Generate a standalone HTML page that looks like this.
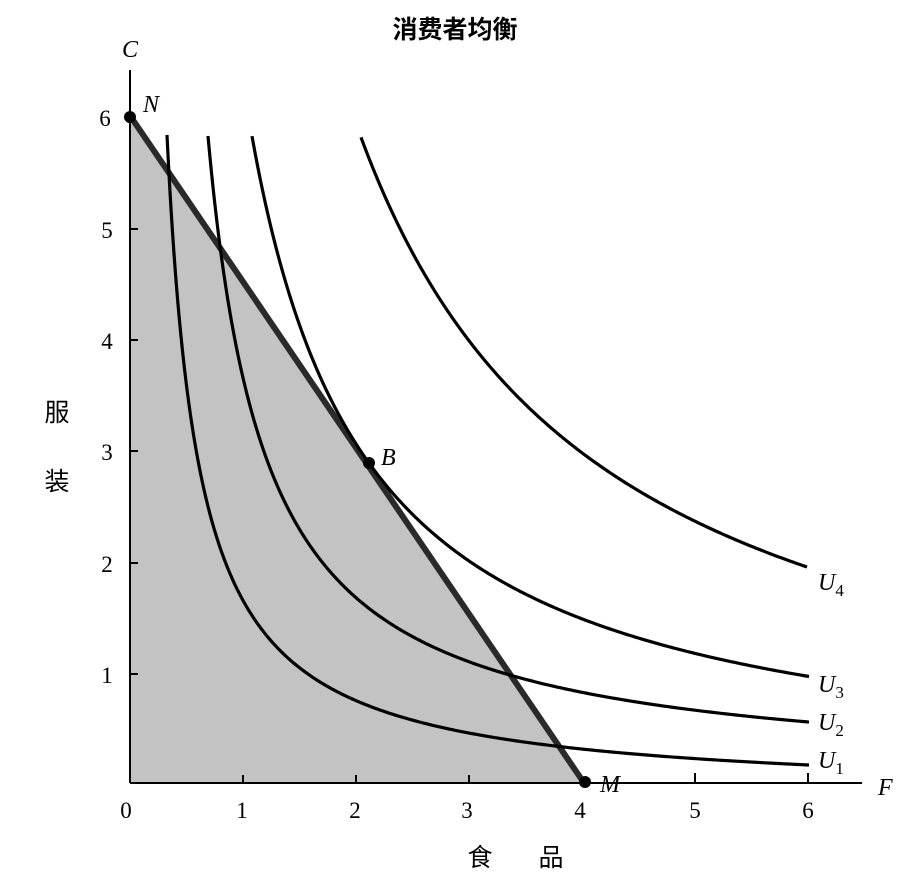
<!DOCTYPE html>
<html><head><meta charset="utf-8"><style>
body{margin:0;background:#fff;}
svg{display:block;}
</style></head><body>
<svg id="s" width="922" height="891" viewBox="0 0 922 891" xmlns="http://www.w3.org/2000/svg">
<rect width="922" height="891" fill="#fff"/>
<text x="455" y="38" font-family="'Noto Sans CJK SC',sans-serif" font-weight="bold" font-size="25" text-anchor="middle">消费者均衡</text>
<polygon points="130,117 582,783 130,783" fill="#c3c3c3"/>
<g stroke="#000" stroke-width="2">
<line x1="130" y1="70" x2="130" y2="783"/>
<line x1="130" y1="783" x2="862" y2="783"/>
<line x1="130" y1="229" x2="138" y2="229"/>
<line x1="130" y1="340" x2="138" y2="340"/>
<line x1="130" y1="451" x2="138" y2="451"/>
<line x1="130" y1="563" x2="138" y2="563"/>
<line x1="130" y1="674" x2="138" y2="674"/>
<line x1="243" y1="783" x2="243" y2="775"/>
<line x1="356" y1="783" x2="356" y2="775"/>
<line x1="469" y1="783" x2="469" y2="775"/>
<line x1="695" y1="783" x2="695" y2="773"/>
<line x1="808" y1="783" x2="808" y2="773"/>
</g>
<line x1="133" y1="120" x2="582" y2="780" stroke="#2a2a2a" stroke-width="6"/>
<g id="curves" fill="none" stroke="#000" stroke-width="3.2" stroke-linejoin="round"></g>
<circle cx="130" cy="117" r="6" fill="#000"/>
<circle cx="369" cy="463" r="6" fill="#000"/>
<circle cx="585" cy="782" r="6" fill="#000"/>
<g font-family="'Liberation Serif',serif" font-size="24" font-style="italic">
<text x="122" y="57">C</text>
<text x="143" y="112">N</text>
<text x="381" y="465">B</text>
<text x="600" y="792">M</text>
<text x="878" y="795">F</text>
<text x="818" y="590">U<tspan font-size="17" font-style="normal" dy="6">4</tspan></text>
<text x="818" y="692">U<tspan font-size="17" font-style="normal" dy="6">3</tspan></text>
<text x="818" y="730">U<tspan font-size="17" font-style="normal" dy="6">2</tspan></text>
<text x="818" y="768">U<tspan font-size="17" font-style="normal" dy="6">1</tspan></text>
</g>
<line x1="591" y1="783" x2="600" y2="783" stroke="#000" stroke-width="2"/>
<g font-family="'Liberation Serif',serif" font-size="23" text-anchor="middle">
<text x="126" y="818">0</text><text x="242" y="818">1</text><text x="355" y="818">2</text>
<text x="467" y="818">3</text><text x="580" y="818">4</text><text x="695" y="818">5</text>
<text x="808" y="818">6</text>
<text x="105" y="126">6</text><text x="107" y="238">5</text><text x="107" y="349">4</text>
<text x="107" y="460">3</text><text x="107" y="572">2</text><text x="107" y="683">1</text>
</g>
<g font-family="'Noto Sans CJK SC',sans-serif" font-size="25" text-anchor="middle">
<text x="57" y="421">服</text><text x="57" y="490">装</text>
<text x="480" y="866">食</text><text x="551" y="866">品</text>
</g>
</svg>
<script>
var defs=[[135,796.4,21165,167,809],[150,778.6,37270,208,809],[135,790,76500,252,809],[115,804,164000,361,807]];
var g=document.getElementById('curves');
defs.forEach(function(d){
  var a=d[0],b=d[1],c=d[2],x0=d[3],x1=d[4],s='';
  for(var i=0;i<=300;i++){
    var t=i/300, x=x0+(x1-x0)*Math.pow(t,1.6), y=b-c/(x-a);
    s+=(i?' L':'M')+x.toFixed(2)+','+y.toFixed(2);
  }
  var p=document.createElementNS('http://www.w3.org/2000/svg','path');
  p.setAttribute('d',s);g.appendChild(p);
});
</script>
</body></html>
